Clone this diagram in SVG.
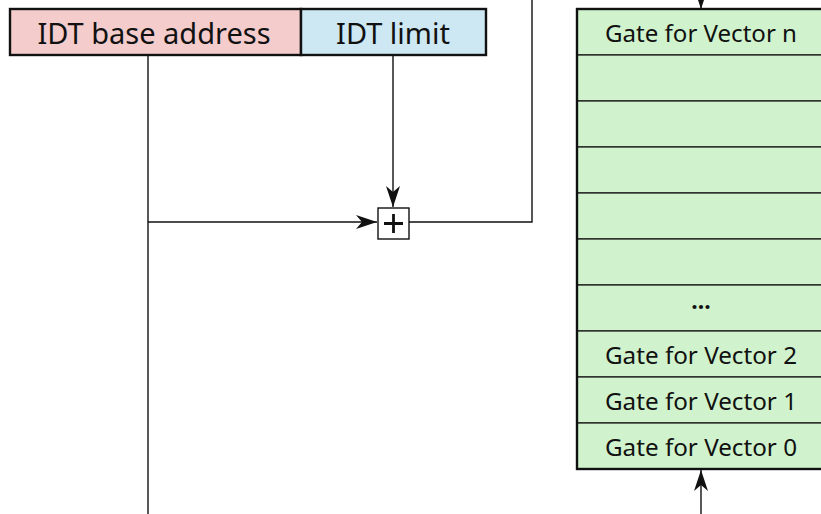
<svg xmlns="http://www.w3.org/2000/svg" width="821" height="514" viewBox="0 0 821 514">
<style>
text{font-family:"Noto Sans","Open Sans","DejaVu Sans",sans-serif;fill:#111;text-anchor:middle}
.big{font-size:29px}
.row{font-size:23px}
.ln{stroke:#111;stroke-width:1.4;fill:none}
.cell{fill:#d0f3cd;stroke:#111;stroke-width:1.2}
</style>
<defs>
<marker id="ah" viewBox="0 0 21 14" refX="21" refY="7" markerWidth="21" markerHeight="14" markerUnits="userSpaceOnUse" orient="auto">
<path d="M0,0 L21,7 L0,14 L6,7 Z" fill="#111"/>
</marker>
</defs>
<g id="connectors">
<path class="ln" d="M148,55 V514"/>
<path class="ln" d="M148,222 H377" marker-end="url(#ah)"/>
<path class="ln" d="M393,55 V207" marker-end="url(#ah)"/>
<path class="ln" d="M409,222 H532 V0"/>
<path class="ln" d="M701,0 V9" marker-end="url(#ah)"/>
<path class="ln" d="M701,514 V470" marker-end="url(#ah)"/>
</g>
<g id="idtr">
<rect x="10" y="9" width="291" height="46" fill="#f4cccc" stroke="#111" stroke-width="2.4"/>
<rect x="301" y="9" width="185" height="46" fill="#cde7f3" stroke="#111" stroke-width="2.4"/>
<text class="big" x="154" y="44">IDT base address</text>
<text class="big" x="393" y="44">IDT limit</text>
</g>
<g id="adder">
<rect x="378" y="208" width="31" height="31" fill="#fff" stroke="#111" stroke-width="1.4"/>
<path d="M393.5,214 V233 M384,223.5 H403" stroke="#111" stroke-width="2.8"/>
</g>
<g id="idt">
<rect class="cell" x="577" y="9" width="250" height="46"/>
<rect class="cell" x="577" y="55" width="250" height="46"/>
<rect class="cell" x="577" y="101" width="250" height="46"/>
<rect class="cell" x="577" y="147" width="250" height="46"/>
<rect class="cell" x="577" y="193" width="250" height="46"/>
<rect class="cell" x="577" y="239" width="250" height="46"/>
<rect class="cell" x="577" y="285" width="250" height="46"/>
<rect class="cell" x="577" y="331" width="250" height="46"/>
<rect class="cell" x="577" y="377" width="250" height="46"/>
<rect class="cell" x="577" y="423" width="250" height="46"/>
<rect x="577" y="9" width="250" height="460" fill="none" stroke="#111" stroke-width="2.4"/>
<text class="row" x="701" y="42" textLength="192" lengthAdjust="spacingAndGlyphs">Gate for Vector n</text>
<text class="row" x="701" y="309" font-weight="bold">...</text>
<text class="row" x="701" y="364" textLength="192" lengthAdjust="spacingAndGlyphs">Gate for Vector 2</text>
<text class="row" x="701" y="410" textLength="192" lengthAdjust="spacingAndGlyphs">Gate for Vector 1</text>
<text class="row" x="701" y="456" textLength="192" lengthAdjust="spacingAndGlyphs">Gate for Vector 0</text>
</g>
</svg>
